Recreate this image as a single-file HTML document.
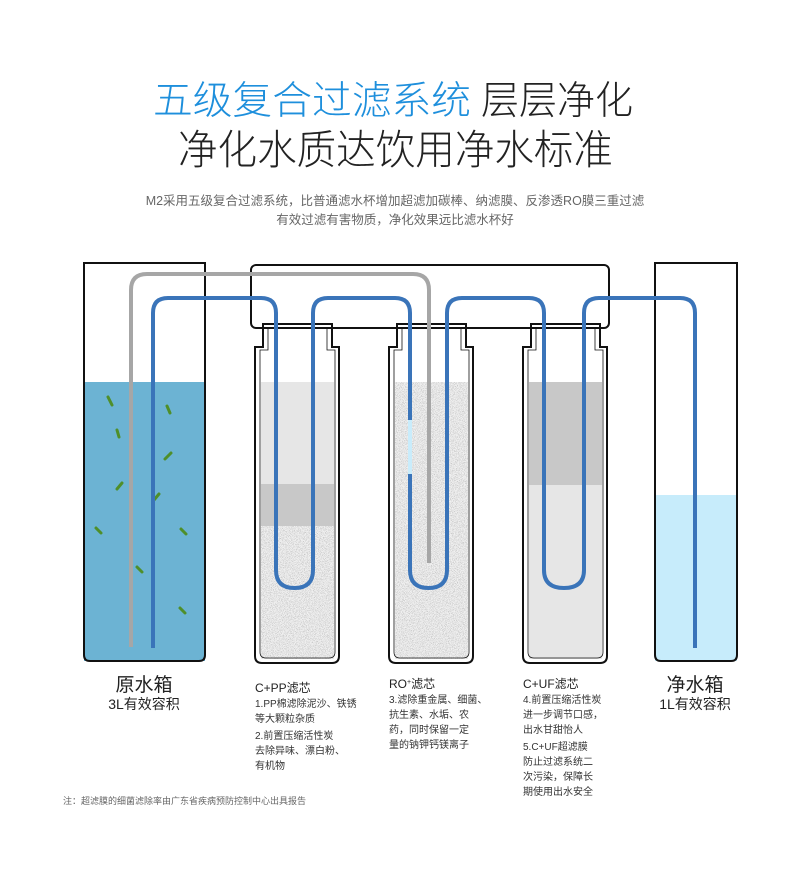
<!DOCTYPE html>
<html><head><meta charset="utf-8"><style>
html,body{margin:0;padding:0;background:#fff;}
svg{display:block;}
text{font-family:"Liberation Sans","Noto Sans CJK SC",sans-serif;}
.t{font-family:"Noto Sans CJK SC",sans-serif;font-weight:300;}
</style></head><body>
<svg width="790" height="881" viewBox="0 0 790 881" xmlns="http://www.w3.org/2000/svg">
<defs>
<filter id="spk" x="0" y="0" width="100%" height="100%">
<feTurbulence type="fractalNoise" baseFrequency="1.3" numOctaves="2" seed="3" result="n"/>
<feColorMatrix in="n" type="matrix" values="0 0 0 0 0.5  0 0 0 0 0.5  0 0 0 0 0.5  0 0 0 -3.5 1.9" result="d"/>
<feFlood flood-color="#f0f0f0" result="bg"/>
<feComposite in="d" in2="bg" operator="over" result="c"/>
<feComposite in="c" in2="SourceGraphic" operator="in"/>
</filter>
</defs>

<!-- titles -->
<text class="t" x="153" y="114" font-size="39" fill="#1e8fdc" textLength="318" lengthAdjust="spacingAndGlyphs">五级复合过滤系统</text>
<text class="t" x="481" y="114" font-size="39" fill="#222" textLength="152" lengthAdjust="spacingAndGlyphs">层层净化</text>
<text class="t" x="178" y="164" font-size="41" fill="#222" textLength="435" lengthAdjust="spacingAndGlyphs">净化水质达饮用净水标准</text>
<text x="395" y="205" font-size="12.5" fill="#666" text-anchor="middle">M2采用五级复合过滤系统，比普通滤水杯增加超滤加碳棒、纳滤膜、反渗透RO膜三重过滤</text>
<text x="395" y="224" font-size="12.5" fill="#666" text-anchor="middle">有效过滤有害物质，净化效果远比滤水杯好</text>

<!-- left tank -->
<rect x="84" y="382" width="121" height="279" fill="#6cb3d3"/>
<path d="M84 263 V655 q0 6 6 6 H199 q6 0 6 -6 V263 Z" fill="none" stroke="#111" stroke-width="2"/>
<g stroke="#4f8f2a" stroke-width="3" stroke-linecap="round">
<line x1="108" y1="397" x2="112" y2="405"/>
<line x1="117" y1="430" x2="119" y2="437"/>
<line x1="167" y1="406" x2="170" y2="413"/>
<line x1="165" y1="459" x2="171" y2="453"/>
<line x1="117" y1="489" x2="122" y2="483"/>
<line x1="154" y1="500" x2="159" y2="494"/>
<line x1="96" y1="528" x2="101" y2="533"/>
<line x1="137" y1="567" x2="142" y2="572"/>
<line x1="181" y1="529" x2="186" y2="534"/>
<line x1="180" y1="608" x2="185" y2="613"/>
</g>

<!-- right tank -->
<rect x="655" y="495" width="82" height="166" fill="#c7ecfb"/>
<path d="M655 263 V655 q0 6 6 6 H731 q6 0 6 -6 V263 Z" fill="none" stroke="#111" stroke-width="2"/>

<!-- filters contents -->
<rect x="261" y="382" width="73" height="102" fill="#e6e6e6"/>
<rect x="261" y="484" width="73" height="42" fill="#c8c8c8"/>
<rect x="261" y="526" width="73" height="133" fill="#eee" filter="url(#spk)"/>
<rect x="395" y="382" width="73" height="277" fill="#eee" filter="url(#spk)"/>
<rect x="529" y="382" width="73" height="103" fill="#c8c8c8"/>
<rect x="529" y="485" width="73" height="174" fill="#e6e6e6"/>

<!-- filter housings -->
<g fill="none" stroke="#111">
<path d="M263 324 V347 H255 V656 q0 7 7 7 H332 q7 0 7 -7 V347 H332 V324 Z" stroke-width="2"/>
<path d="M268 328 V350 H260 V652 q0 6 6 6 H329 q6 0 6 -6 V350 H327 V328" stroke-width="0.8"/>
<path d="M397 324 V347 H389 V656 q0 7 7 7 H466 q7 0 7 -7 V347 H466 V324 Z" stroke-width="2"/>
<path d="M402 328 V350 H394 V652 q0 6 6 6 H463 q6 0 6 -6 V350 H461 V328" stroke-width="0.8"/>
<path d="M531 324 V347 H523 V656 q0 7 7 7 H600 q7 0 7 -7 V347 H600 V324 Z" stroke-width="2"/>
<path d="M536 328 V350 H528 V652 q0 6 6 6 H597 q6 0 6 -6 V350 H595 V328" stroke-width="0.8"/>
</g>

<!-- header box -->
<rect x="251" y="265" width="358" height="63" rx="5" fill="none" stroke="#111" stroke-width="2"/>

<!-- gray pipe -->
<path d="M131 647 V290 q0 -16 16 -16 H413 q16 0 16 16 V563" fill="none" stroke="#a6a6a6" stroke-width="4"/>

<!-- blue pipe -->
<path d="M153 648 V313 q0 -15 15 -15 H261 q15 0 15 15 V570 q0 18 18.5 18 q18.5 0 18.5 -18 V313 q0 -15 15 -15 H395 q15 0 15 15 V570 q0 18 18.5 18 q18.5 0 18.5 -18 V313 q0 -15 15 -15 H529 q15 0 15 15 V570 q0 18 20 18 q20 0 20 -18 V313 q0 -15 15 -15 H680 q15 0 15 15 V648" fill="none" stroke="#3a74b9" stroke-width="4"/>
<line x1="410" y1="420" x2="410" y2="474" stroke="#c9ecfb" stroke-width="4"/>

<!-- labels -->
<text x="144" y="691" font-size="19" fill="#222" text-anchor="middle">原水箱</text>
<text x="144" y="709" font-size="14" fill="#222" text-anchor="middle">3L有效容积</text>
<text x="695" y="691" font-size="19" fill="#222" text-anchor="middle">净水箱</text>
<text x="695" y="709" font-size="14" fill="#222" text-anchor="middle">1L有效容积</text>

<g font-size="12" fill="#222">
<text x="255" y="692">C+PP滤芯</text>
<text x="389" y="688">RO<tspan font-size="7" dy="-4">+</tspan><tspan dy="4">滤芯</tspan></text>
<text x="523" y="688">C+UF滤芯</text>
</g>
<g font-size="10" fill="#333">
<text x="255" y="707">1.PP棉滤除泥沙、铁锈</text>
<text x="255" y="722">等大颗粒杂质</text>
<text x="255" y="739">2.前置压缩活性炭</text>
<text x="255" y="754">去除异味、漂白粉、</text>
<text x="255" y="769">有机物</text>
<text x="389" y="703">3.滤除重金属、细菌、</text>
<text x="389" y="718">抗生素、水垢、农</text>
<text x="389" y="733">药，同时保留一定</text>
<text x="389" y="748">量的钠钾钙镁离子</text>
<text x="523" y="703">4.前置压缩活性炭</text>
<text x="523" y="718">进一步调节口感，</text>
<text x="523" y="733">出水甘甜怡人</text>
<text x="523" y="750">5.C+UF超滤膜</text>
<text x="523" y="765">防止过滤系统二</text>
<text x="523" y="780">次污染，保障长</text>
<text x="523" y="795">期使用出水安全</text>
</g>
<text x="63" y="804" font-size="9" fill="#666">注：超滤膜的细菌滤除率由广东省疾病预防控制中心出具报告</text>
</svg>
</body></html>
